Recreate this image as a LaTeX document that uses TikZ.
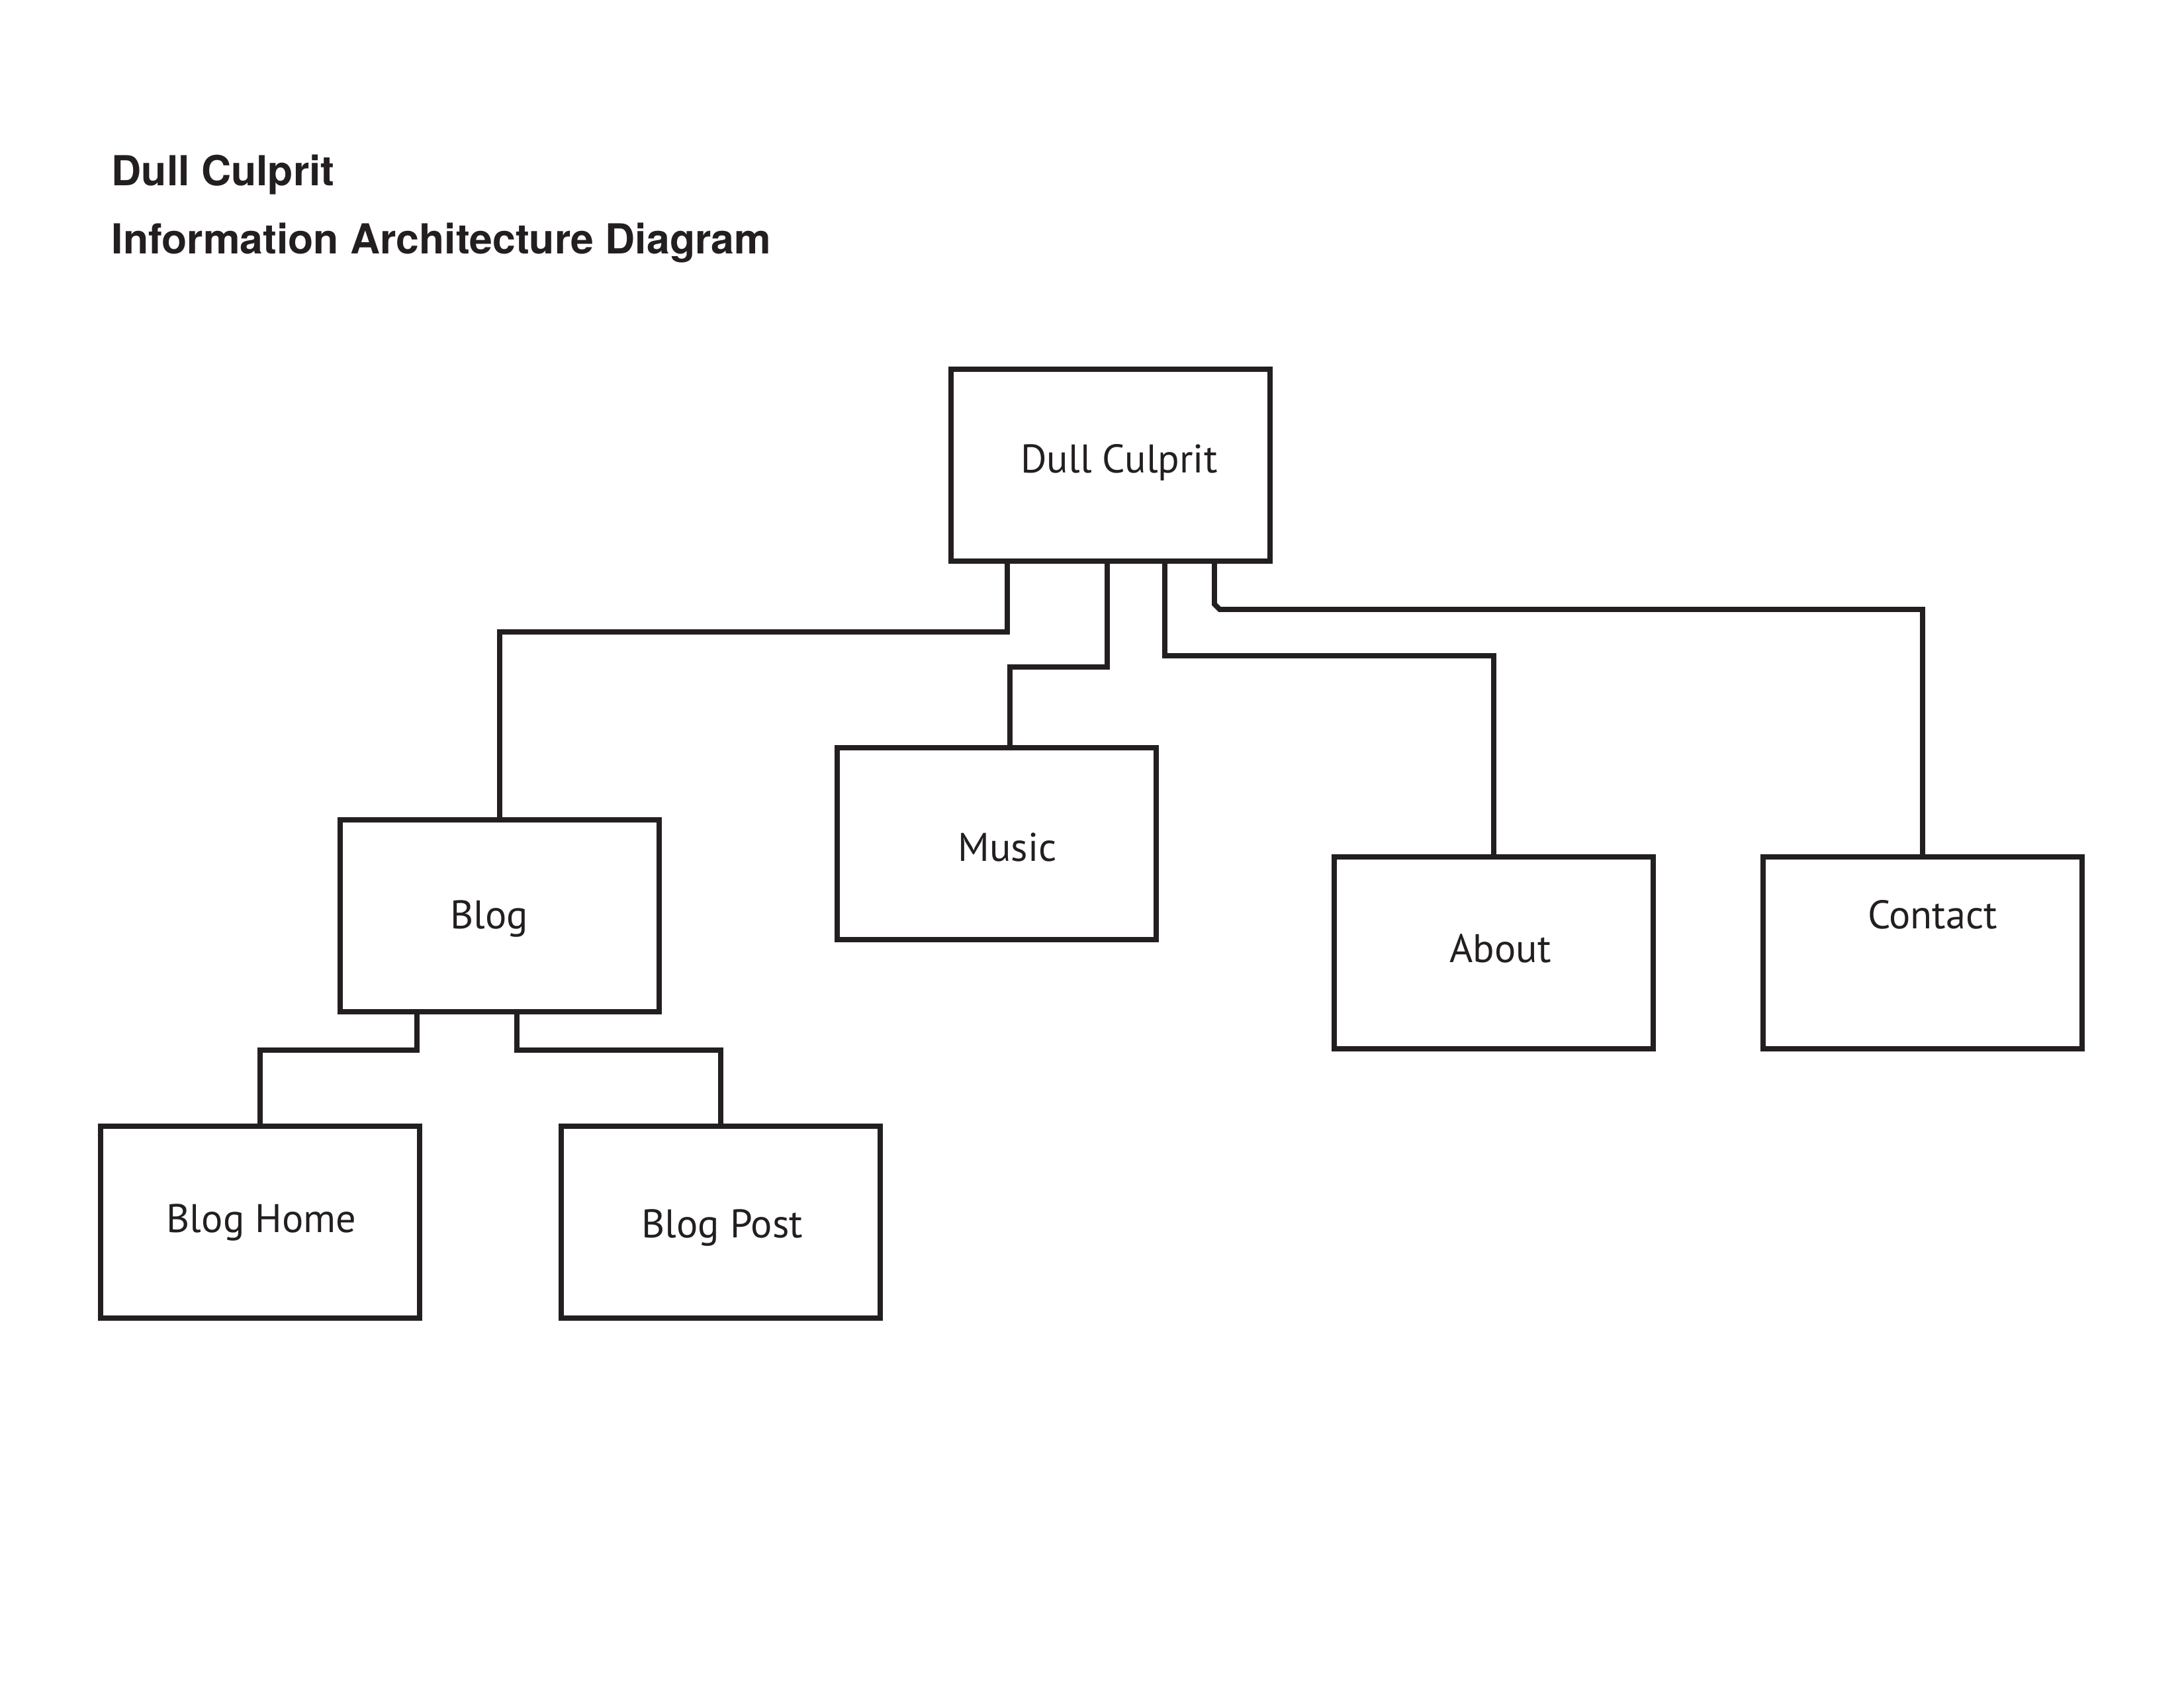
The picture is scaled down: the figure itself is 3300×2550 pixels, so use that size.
\documentclass[tikz,border=0pt]{standalone}
\usepackage{fontspec}
\usetikzlibrary{calc}
\newfontfamily\titlefont{TeX Gyre Heros}
\newfontfamily\boxfont{PT Sans}
\definecolor{ink}{RGB}{35,31,32}
\tikzset{
  pagebox/.style={draw=ink, line width=1.9pt, rectangle, fill=white,
    minimum width=115.7pt, minimum height=69.6pt, inner sep=0pt},
  boxlabel/.style={text=ink, font=\boxfont\fontsize{14.5}{17}\selectfont, inner sep=0pt},
  heading/.style={text=ink, font=\titlefont\bfseries\fontsize{15}{18}\selectfont,
    anchor=base west, inner sep=0pt},
  conn/.style={draw=ink, line width=1.9pt, line join=miter}
}
\begin{document}
\begin{tikzpicture}[x=0.24pt, y=-0.24pt]
  \useasboundingbox[fill=white] (0,0) rectangle (3300,2550);

  % title block
  \node[heading] (title1) at (168,280) {Dull Culprit};
  \node[heading] (title2) at (168,383) {Information Architecture Diagram};

  % page boxes
  \node[pagebox] (root)     at (1678,703)  {};
  \node[pagebox] (blog)     at (755,1384)  {};
  \node[pagebox] (music)    at (1506,1275) {};
  \node[pagebox] (about)    at (2257,1440) {};
  \node[pagebox] (contact)  at (2905,1440) {};
  \node[pagebox] (bloghome) at (393,1847)  {};
  \node[pagebox] (blogpost) at (1089,1847) {};

  % box captions
  \node[boxlabel] (root-t)     at (1691,699)  {Dull Culprit};
  \node[boxlabel] (blog-t)     at (739,1388)  {Blog};
  \node[boxlabel] (music-t)    at (1522,1280) {Music};
  \node[boxlabel] (about-t)    at (2267,1433) {About};
  \node[boxlabel] (contact-t)  at (2920,1382) {Contact};
  \node[boxlabel] (bloghome-t) at (395,1847)  {Blog Home};
  \node[boxlabel] (blogpost-t) at (1091,1855) {Blog Post};

  % connectors from the home page
  \draw[conn] ($(root.south west)+(89,0)$) -- ++(0,103) -| (blog.north);
  \draw[conn] ($(root.south west)+(240,0)$) -- ++(0,156) -| ($(music.north)+(20,0)$);
  \draw[conn] ($(root.south west)+(327,0)$) -- ++(0,139) -| (about.north);
  \draw[conn] ($(root.south west)+(402,0)$) -- ++(0,61) -- ++(8,8) -| (contact.north);

  % connectors below the blog
  \draw[conn] ($(blog.south west)+(120,0)$) -- ++(0,54) -| (bloghome.north);
  \draw[conn] ($(blog.south west)+(271,0)$) -- ++(0,54) -| (blogpost.north);
\end{tikzpicture}
\end{document}
